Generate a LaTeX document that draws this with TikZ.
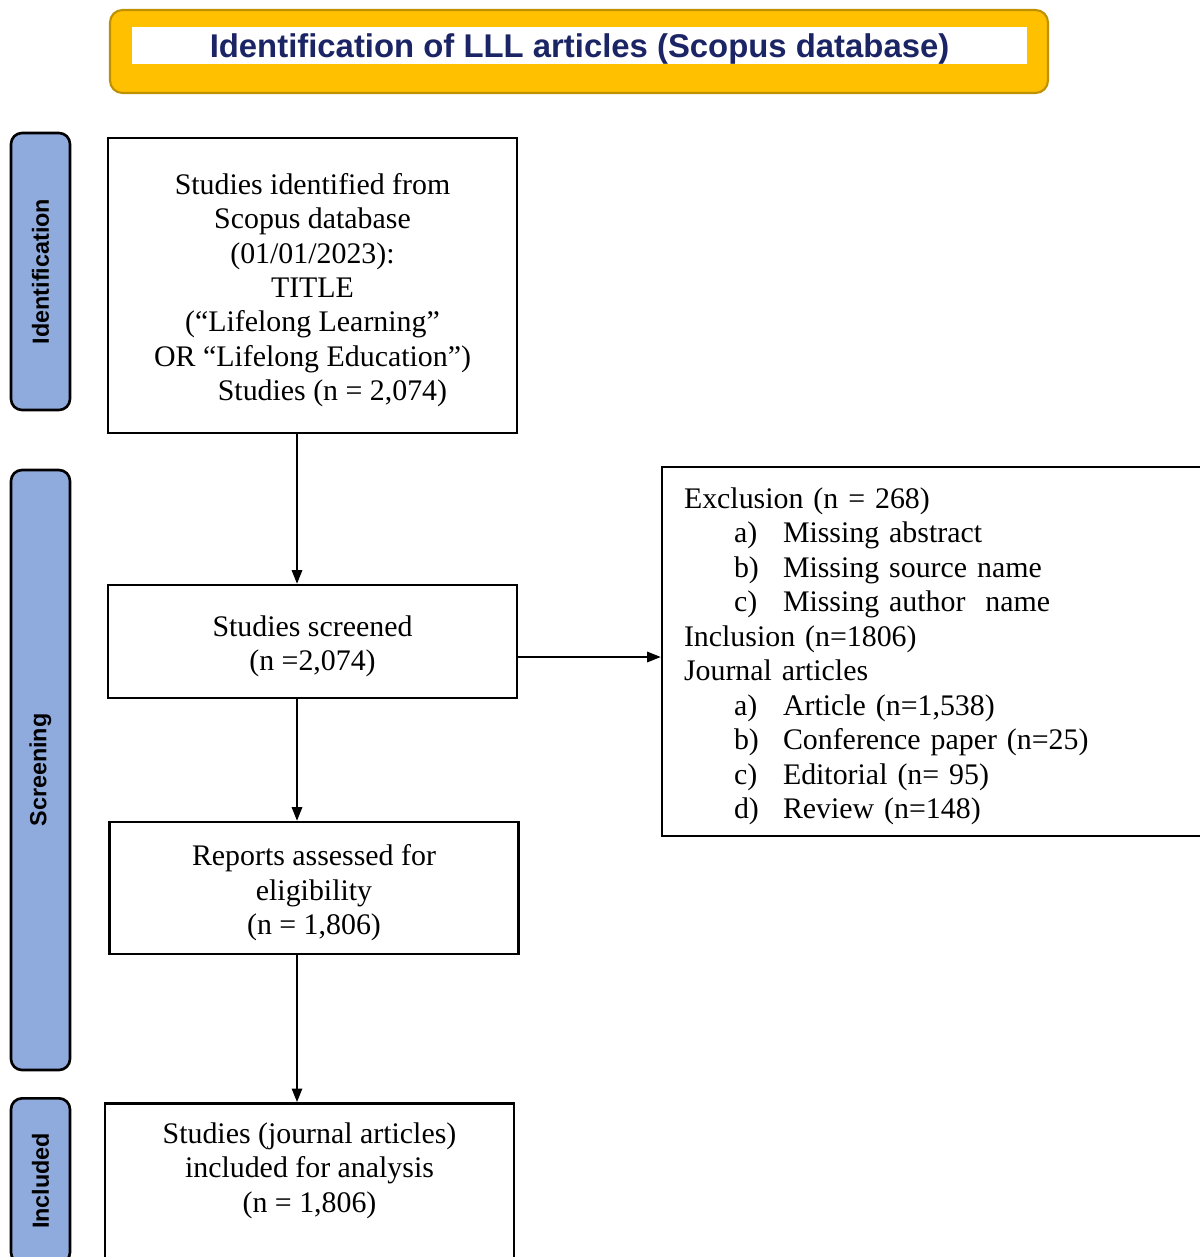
\documentclass[tikz,border=0pt]{standalone}
\usepackage{fontspec}
\setmainfont{Liberation Serif}
\setsansfont{Liberation Sans}
\usetikzlibrary{arrows.meta,positioning,calc}
\definecolor{hdryellow}{HTML}{FFC000}
\definecolor{hdrgold}{HTML}{BF9000}
\definecolor{hdrnavy}{HTML}{1B2566}
\definecolor{stageblue}{HTML}{8FAADC}
\newcommand{\litem}[2]{\hspace*{1cm}\makebox[0.98cm][l]{#1}#2}
\newcommand{\topstrut}{\rule{0pt}{17.3pt}}

\begin{document}
\begin{tikzpicture}[
    box/.style={draw, line width=1.5pt, minimum width=8.18cm, align=center, inner sep=0pt, font=\fontsize{17}{19.6}\selectfont},
    stage/.style={draw, line width=1.5pt, rounded corners=0.22cm, fill=stageblue, rotate=90, minimum height=1.18cm, inner sep=0pt, font=\sffamily\bfseries\fontsize{13.3}{16}\selectfont},
    arr/.style={-{Triangle[length=0.27cm, width=0.21cm]}, line width=0.8pt}
]
\useasboundingbox (0,0) rectangle (23.98,-25.14);

\node[draw=hdrgold, line width=1.2pt, fill=hdryellow, rounded corners=0.25cm, minimum width=18.76cm, minimum height=1.66cm] (banner) at (11.58,-1.03) {};
\node[fill=white, minimum width=17.9cm, minimum height=0.74cm, inner sep=0pt, text height=0.6cm, text=hdrnavy, font=\sffamily\bfseries\fontsize{18.7}{20}\selectfont] (title) at (11.59,-0.91) {Identification of LLL articles (Scopus database)};

\node[stage, minimum width=5.54cm] (sIdent) at (0.81,-5.43) {Identification};
\node[stage, minimum width=12cm] (sScreen) at (0.81,-15.4) {Screening};
\node[stage, minimum width=3.3cm, anchor=east] (sIncl) at (0.81,-21.94) {Included};

\node[box, minimum height=5.9cm] (found) at (6.25,-5.71) {\topstrut Studies identified from\\Scopus database\\(01/01/2023):\\TITLE\\(“Lifelong Learning”\\OR “Lifelong Education”)\\\hspace*{0.8cm}Studies (n = 2,074)};
\node[box, minimum height=2.26cm] (screened) at (6.25,-12.83) {\topstrut Studies screened\\(n =2,074)};
\node[box, minimum height=2.64cm] (assessed) at (6.28,-17.76) {\topstrut Reports assessed for\\eligibility\\(n = 1,806)};
\node[box, anchor=north, inner ysep=0.19cm, text depth=3cm] (included) at (6.19,-22.04) {\topstrut Studies (journal articles)\\included for analysis\\(n = 1,806)};

\node[draw, line width=1.5pt, text width=10.18cm, inner xsep=0.44cm, inner ysep=0pt, minimum height=7.38cm, align=left, font=\fontsize{17}{19.6}\selectfont] (criteria) at (18.77,-13.03) {\topstrut Exclusion (n = 268)\\
\litem{a)}{Missing abstract}\\
\litem{b)}{Missing source name}\\
\litem{c)}{Missing author\ \ name}\\
Inclusion (n=1806)\\
Journal articles\\
\litem{a)}{Article (n=1,538)}\\
\litem{b)}{Conference paper (n=25)}\\
\litem{c)}{Editorial (n= 95)}\\
\litem{d)}{Review (n=148)}};

\coordinate (axis) at (5.94,0);
\draw[arr] (found.south -| axis) -- (screened.north -| axis);
\draw[arr] (screened.south -| axis) -- (assessed.north -| axis);
\draw[arr] (assessed.south -| axis) -- (included.north -| axis);
\draw[arr] ([yshift=-0.31cm]screened.east) -- ([yshift=-0.31cm]screened.east -| criteria.west);
\end{tikzpicture}
\end{document}
